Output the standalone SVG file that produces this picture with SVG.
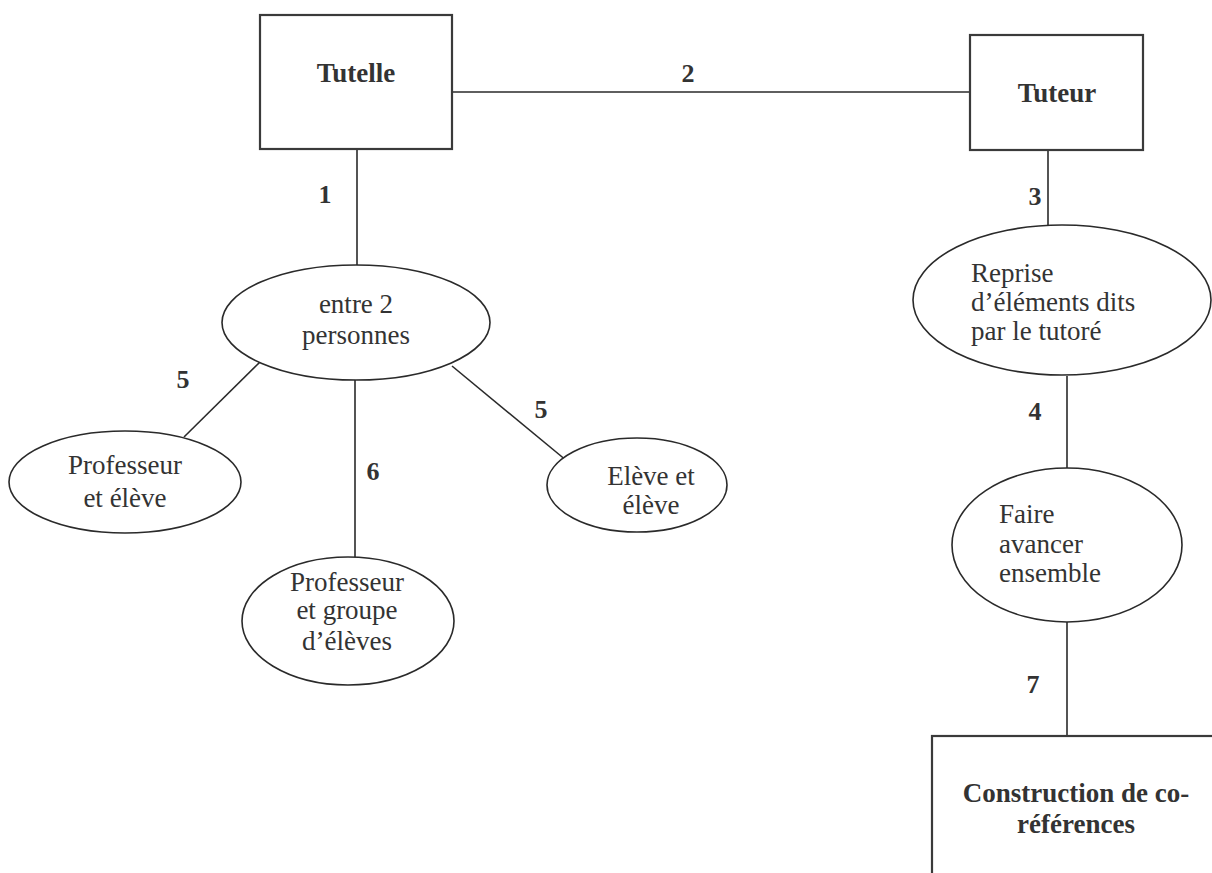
<svg xmlns="http://www.w3.org/2000/svg" width="1212" height="873" viewBox="0 0 1212 873">
<style>
.box{fill:#fff;stroke:#3a3a3a;stroke-width:2.2}
.ell{fill:#fff;stroke:#2a2a2a;stroke-width:1.6}
.ln{stroke:#2a2a2a;stroke-width:1.6;fill:none}
text{font-family:"Liberation Serif","Times New Roman",serif;font-size:27px;fill:#333}
.b{font-weight:bold}
.c{text-anchor:middle}
.n{font-size:26px}
</style>
<rect width="1212" height="873" fill="#fff"/>
<g id="connectors">
<line class="ln" x1="452" y1="92" x2="970" y2="92"/>
<line class="ln" x1="357" y1="149" x2="357" y2="265"/>
<line class="ln" x1="260" y1="362" x2="184" y2="437"/>
<line class="ln" x1="355" y1="380" x2="355" y2="558"/>
<line class="ln" x1="452" y1="366" x2="567" y2="461"/>
<line class="ln" x1="1048" y1="150" x2="1048" y2="226"/>
<line class="ln" x1="1067" y1="376" x2="1067" y2="476"/>
<line class="ln" x1="1067" y1="622" x2="1067" y2="736"/>
<text class="b c n" x="688" y="82">2</text>
<text class="b c n" x="325" y="203">1</text>
<text class="b c n" x="1035" y="205">3</text>
<text class="b c n" x="183" y="388">5</text>
<text class="b c n" x="373" y="480">6</text>
<text class="b c n" x="541" y="418">5</text>
<text class="b c n" x="1035" y="420">4</text>
<text class="b c n" x="1033" y="693">7</text>
</g>
<g id="tutelle">
<rect class="box" x="260" y="15" width="192" height="134"/>
<text class="b c" x="356" y="82">Tutelle</text>
</g>
<g id="tuteur">
<rect class="box" x="970" y="35" width="173" height="115"/>
<text class="b c" x="1057" y="102">Tuteur</text>
</g>
<g id="entre">
<ellipse class="ell" cx="356" cy="322.5" rx="134" ry="57.5"/>
<text class="c" x="356" y="313">entre 2</text>
<text class="c" x="356" y="344">personnes</text>
</g>
<g id="prof-eleve">
<ellipse class="ell" cx="125" cy="482" rx="116" ry="51"/>
<text class="c" x="125" y="474">Professeur</text>
<text class="c" x="125" y="507">et élève</text>
</g>
<g id="prof-groupe">
<ellipse class="ell" cx="348" cy="621" rx="106" ry="64"/>
<text class="c" x="347" y="591">Professeur</text>
<text class="c" x="347" y="619">et groupe</text>
<text class="c" x="347" y="650">d’élèves</text>
</g>
<g id="eleve-eleve">
<ellipse class="ell" cx="637" cy="485" rx="90" ry="47"/>
<text class="c" x="651" y="485">Elève et</text>
<text class="c" x="651" y="514">élève</text>
</g>
<g id="reprise">
<ellipse class="ell" cx="1062" cy="300" rx="149" ry="75"/>
<text x="971" y="282">Reprise</text>
<text x="971" y="311">d’éléments dits</text>
<text x="971" y="340">par le tutoré</text>
</g>
<g id="faire">
<ellipse class="ell" cx="1067" cy="545" rx="115" ry="77"/>
<text x="999" y="523">Faire</text>
<text x="999" y="553">avancer</text>
<text x="999" y="582">ensemble</text>
</g>
<g id="construction">
<rect class="box" x="932" y="736" width="320" height="200"/>
<text class="b c" x="1076" y="802">Construction de co-</text>
<text class="b c" x="1076" y="833">références</text>
</g>
</svg>
